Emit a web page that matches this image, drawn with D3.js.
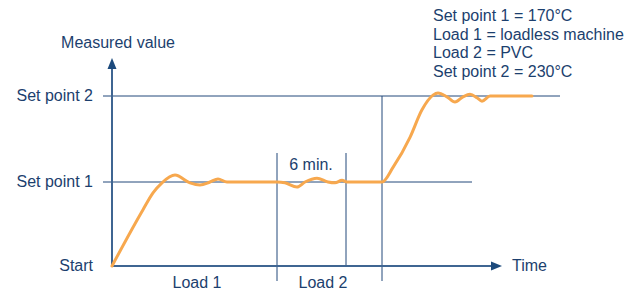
<!DOCTYPE html>
<html>
<head>
<meta charset="utf-8">
<script src="https://cdn.jsdelivr.net/npm/d3@7"></script>
<style>
  body { margin: 0; background: #fff; }
  text { font-family: "Liberation Sans", Arial, sans-serif; font-size: 16px; fill: #1c3f6e; }
</style>
</head>
<body>
<div id="chart"></div>
<script>
// levels: 0 = start, 1 = set point 1, 2 = set point 2
const levels = [0, 1, 2];
const levelLabels = ['Start', 'Set point 1', 'Set point 2'];

// measured value over time (schematic units)
const times  = [0, 3.1, 4.1, 5.0, 6.3, 7.8, 8.8, 9.8, 10.6, 11.5, 16.5, 17.3, 18.5, 19.3, 20.5, 21.6, 22.3, 23.0, 23.5,
                27.0, 28.1, 29.8, 31.0, 32.1, 32.6, 33.5, 34.3, 35.1, 35.8, 36.5, 37.0, 37.8, 42.0];
const values = [0, 0.67, 0.87, 0.99, 1.08, 0.99, 0.965, 1.0, 1.035, 1.0, 1.0, 0.99, 0.94, 1.0, 1.045, 1.0, 0.99, 1.02, 1.0,
                1.0, 1.17, 1.52, 1.84, 2.01, 2.035, 1.99, 1.93, 1.99, 2.02, 1.98, 1.94, 2.0, 2.0];

// load change markers (time)
const markers = [16.5, 23.4, 27.0];
const loadLabels = ['Load 1', 'Load 2'];
const notes = ['Set point 1 = 170°C', 'Load 1 = loadless machine', 'Load 2 = PVC', 'Set point 2 = 230°C'];

const width = 640, height = 291;
const lineColor = '#23497a';
const axisColor = '#3f6592';

const svg = d3.select('#chart').append('svg')
    .attr('width', width)
    .attr('height', height);

const x = d3.scaleLinear().domain([0, 39]).range([112, 502]);
const y = d3.scaleLinear().domain(levels).range([266, 182, 96]);

// set point lines
svg.append('line')
    .attr('x1', x(-0.9)).attr('x2', x(44.8))
    .attr('y1', y(2)).attr('y2', y(2))
    .attr('stroke', lineColor).attr('stroke-width', 1);
svg.append('line')
    .attr('x1', x(-0.9)).attr('x2', x(36))
    .attr('y1', y(1)).attr('y2', y(1))
    .attr('stroke', lineColor).attr('stroke-width', 1);

// vertical markers
svg.append('line')
    .attr('x1', x(markers[0])).attr('x2', x(markers[0]))
    .attr('y1', 153).attr('y2', 281)
    .attr('stroke', lineColor).attr('stroke-width', 1);
svg.append('line')
    .attr('x1', x(markers[1])).attr('x2', x(markers[1]))
    .attr('y1', 153).attr('y2', y(0))
    .attr('stroke', lineColor).attr('stroke-width', 1);
svg.append('line')
    .attr('x1', x(markers[2])).attr('x2', x(markers[2]))
    .attr('y1', y(2)).attr('y2', 281)
    .attr('stroke', lineColor).attr('stroke-width', 1);

// axes with arrows
svg.append('line')
    .attr('x1', x(0)).attr('x2', x(0))
    .attr('y1', y(0) + 1).attr('y2', 66)
    .attr('stroke', axisColor).attr('stroke-width', 2);
svg.append('path')
    .attr('d', `M${x(0)},58 L${x(0) - 4.5},69 L${x(0) + 4.5},69 Z`)
    .attr('fill', '#1c4a7c');
svg.append('line')
    .attr('x1', x(0) - 1).attr('x2', x(39) - 8)
    .attr('y1', y(0)).attr('y2', y(0))
    .attr('stroke', axisColor).attr('stroke-width', 2);
svg.append('path')
    .attr('d', `M${x(39)},${y(0)} L${x(39) - 11},${y(0) - 4.5} L${x(39) - 11},${y(0) + 4.5} Z`)
    .attr('fill', '#1c4a7c');

// measured curve
const data = times.map((t, i) => ({ t: t, v: values[i] }));
const line = d3.line()
    .x(d => x(d.t))
    .y(d => y(d.v))
    .curve(d3.curveMonotoneX);

svg.append('path')
    .datum(data)
    .attr('d', line)
    .attr('fill', 'none')
    .attr('stroke', '#f7a84e')
    .attr('stroke-width', 3)
    .attr('stroke-linecap', 'round');

// labels
svg.selectAll('.level-label')
    .data(levels)
    .enter().append('text')
    .attr('class', 'level-label')
    .attr('x', 93)
    .attr('y', d => y(d) + 5)
    .attr('text-anchor', 'end')
    .text((d, i) => levelLabels[i]);

svg.append('text').attr('x', 118).attr('y', 48).attr('text-anchor', 'middle').text('Measured value');
svg.append('text').attr('x', 512).attr('y', 271).text('Time');
svg.append('text').attr('x', 197).attr('y', 288).attr('text-anchor', 'middle').text(loadLabels[0]);
svg.append('text').attr('x', 323).attr('y', 288).attr('text-anchor', 'middle').text(loadLabels[1]);
svg.append('text').attr('x', 311).attr('y', 170).attr('text-anchor', 'middle').text('6 min.');

svg.selectAll('.note')
    .data(notes)
    .enter().append('text')
    .attr('class', 'note')
    .attr('x', 433)
    .attr('y', (d, i) => 21 + i * 18.7)
    .text(d => d);
</script>
</body>
</html>
